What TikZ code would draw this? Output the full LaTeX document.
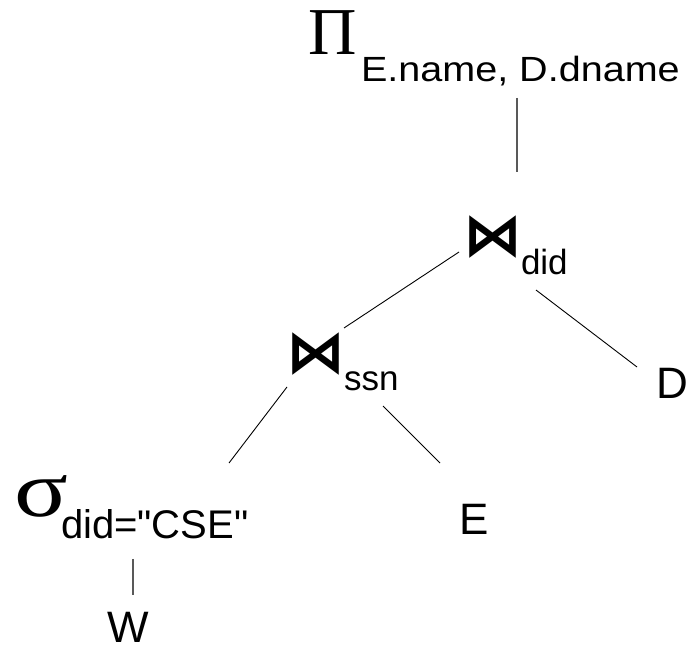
\documentclass[tikz,border=0pt]{standalone}
\usepackage{fontspec}
\setmainfont{Liberation Sans}[Ligatures=TeXOff]
\newfontfamily\serifsym{Liberation Serif}
\newfontfamily\djv{DejaVu Sans}
\newcommand\myfs[1]{\fontsize{#1}{#1}\selectfont}
\tikzset{
  lbl/.style={inner sep=0pt, outer sep=0pt, anchor=base west},
  sym/.style={inner sep=0pt, outer sep=0pt, anchor=center, font=\djv\bfseries\myfs{59}},
  edge/.style={draw=black, line width=0.9pt},
  vedge/.style={draw=black!65, line width=1.3pt}
}
\begin{document}
\begin{tikzpicture}[x=1pt,y=-1pt]
\useasboundingbox (0,0) rectangle (689,652);
% nodes
\node[lbl, font=\serifsym\myfs{67}] (pi) at (308,55) {Π};
\node[lbl, font=\myfs{35}] (pisub) at (361,82) {\scalebox{1.13}[1]{E.name, D.dname}};
\node[sym] (join1) at (493,237) {⋈};
\node[lbl, font=\myfs{35}] (didlbl) at (521,275) {did};
\node[sym] (join2) at (315.5,354) {⋈};
\node[lbl, font=\myfs{35}] (ssnlbl) at (344,391) {ssn};
\node[lbl, font=\myfs{44}] (D) at (656,399) {D};
\node[lbl, font=\serifsym\myfs{80}] (sigma) at (15,517) {\scalebox{1.25}[1]{σ}};
\node[lbl, font=\myfs{40}] (sigsub) at (61,539) {did="CSE"};
\node[lbl, font=\myfs{44}] (E) at (459,535) {E};
\node[lbl, font=\myfs{44}] (W) at (107,642) {W};
% connectors
\draw[vedge] ([shift={(156,16)}]pisub.base west) -- ([shift={(24,-65)}]join1.center);
\draw[edge] ([shift={(-34,15)}]join1.center) -- ([shift={(28.5,-26)}]join2.center);
\draw[edge] ([shift={(43,53)}]join1.center) -- ([shift={(-19,-32)}]D.base west);
\draw[edge] ([shift={(-28.5,33)}]join2.center) -- ([shift={(168,-76)}]sigsub.base west);
\draw[edge] ([shift={(67.5,52)}]join2.center) -- ([shift={(-19,-72)}]E.base west);
\draw[vedge] ([shift={(72,20)}]sigsub.base west) -- ([shift={(26,-47)}]W.base west);
\end{tikzpicture}
\end{document}
